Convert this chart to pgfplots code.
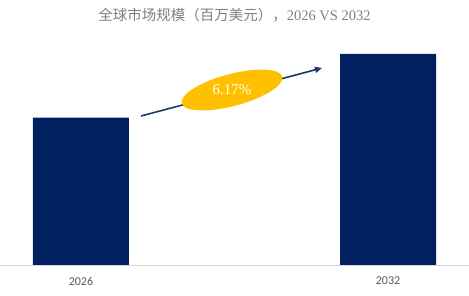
\documentclass[border=0pt]{standalone}
\usepackage{pgfplots}
\pgfplotsset{compat=1.18}
\usepackage{fontspec}
\setmainfont{Liberation Serif}
\newfontfamily\cjk{Noto Sans CJK SC}
\newfontfamily\calibri{Carlito}
\usetikzlibrary{arrows.meta}

\definecolor{barnavy}{HTML}{002060}
\definecolor{arrownavy}{HTML}{1F3864}
\definecolor{cagryellow}{HTML}{FFC000}
\definecolor{titlegray}{HTML}{7F7F7F}
\definecolor{ticklabelgray}{HTML}{595959}
\definecolor{baselinegray}{HTML}{D9D9D9}

\begin{document}
\begin{tikzpicture}[x=1pt,y=1pt]
\path[use as bounding box] (0,-30) rectangle (469,265);
\begin{axis}[
  at={(0,0)}, anchor=south west,
  scale only axis,
  width=469pt, height=225pt,
  xmin=-0.2638, xmax=1.2638,
  ymin=0, ymax=152.7,
  axis line style={draw=none},
  axis x line*=bottom,
  hide y axis,
  xtick=data,
  xticklabels={2026,2032},
  x tick label style={font=\calibri\fontsize{12}{14}\selectfont, text=ticklabelgray, anchor=center, yshift=-16pt},
  major tick length=0pt,
  ytick=\empty,
  clip=false,
]
\addplot[ybar, bar width=96pt, fill=barnavy, draw=none]
  coordinates {(0,100) (1,143.2)};
\end{axis}
% baseline of the bars
\draw[baselinegray, line width=0.8pt] (0,0) -- (469,0);
% growth arrow with CAGR badge
\draw[arrownavy, line width=1.6pt, -{Triangle[length=7pt,width=6pt]}] (141,149) -- (322,197);
\fill[cagryellow, rotate around={14.85:(232,175)}] (232,175) ellipse [x radius=52pt, y radius=16pt];
\node[text=white, font=\fontsize{15}{17}\selectfont, inner sep=0pt] at (232,175) {6.17\%};
% title
\node[text=titlegray, font=\fontsize{14.5}{17}\selectfont] at (234.5,250) {{\cjk 全球市场规模（百万美元），}2026 VS 2032};
\end{tikzpicture}
\end{document}
